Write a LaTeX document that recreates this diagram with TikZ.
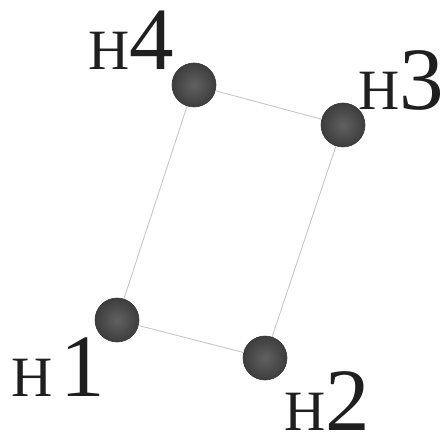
\documentclass[tikz,border=0pt]{standalone}
\usepackage{fontspec}
\setmainfont{Liberation Serif}
\usetikzlibrary{positioning}

% label: small H followed by a large digit
\newcommand{\hlab}[2][0pt]{{\fontsize{57}{57}\selectfont H}\kern#1{\fontsize{89}{89}\selectfont #2}}

\begin{document}
\begin{tikzpicture}[
        x=1pt, y=1pt,
        % atoms and bonds
        atom/.style={
            circle,
            minimum size=44pt,
            inner sep=0pt,
            draw=black!78,
            line width=0.6pt,
            inner color=black!62,
            outer color=black!76
        },
        bond/.style={
            draw=black!22,
            line width=0.9pt
        },
        hlabel/.style={
            anchor=base west,
            inner sep=0pt,
            text=black!88
        }
        ]
        \useasboundingbox (0,0) rectangle (443,439);

        \node [atom] (h1) at (117,119) {};
        \node [atom] (h2) at (265,81) {};
        \node [atom] (h3) at (343,314) {};
        \node [atom] (h4) at (194,354) {};

        \draw [bond] (h1) -- (h2);
        \draw [bond] (h2) -- (h3);
        \draw [bond] (h3) -- (h4);
        \draw [bond] (h4) -- (h1);

        \node [hlabel, xshift=-106pt, yshift=-76pt] (lab1) at (h1.center) {\hlab[8pt]{1}};
        \node [hlabel, xshift=19pt, yshift=-72pt] (lab2) at (h2.center) {\hlab{2}};
        \node [hlabel, xshift=15pt, yshift=15pt] (lab3) at (h3.center) {\hlab{3}};
        \node [hlabel, xshift=-106pt, yshift=15pt] (lab4) at (h4.center) {\hlab{4}};
\end{tikzpicture}
\end{document}
